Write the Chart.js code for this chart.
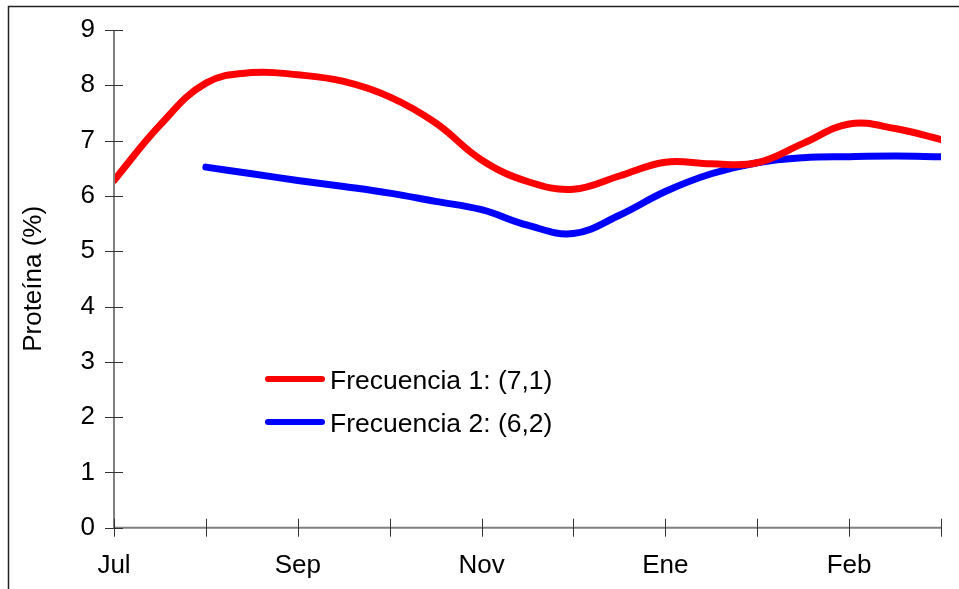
<!DOCTYPE html>
<html>
<head>
<meta charset="utf-8">
<script src="https://cdn.jsdelivr.net/npm/chart.js@4"></script>
<style>
    html, body { margin: 0; padding: 0; background: #fff; }
    #wrap { width: 959px; height: 589px; position: relative; }
</style>
</head>
<body>
<div id="wrap"><canvas id="proteinChart"></canvas></div>
<script>
// posiciones en unidades de marca del eje x (0 = Jul ... 9 = última marca)
const xPos = [0, 0.5, 1, 1.5, 2, 2.5, 3, 3.5, 4, 4.5, 5, 5.5, 6, 6.5, 7, 7.5, 8, 8.5, 9];
const frecuencia1 = [6.28, 7.28, 8.04, 8.23, 8.19, 8.07, 7.79, 7.32, 6.65, 6.26, 6.12, 6.36, 6.61, 6.58, 6.60, 6.95, 7.30, 7.22, 7.02];
const frecuencia2 = [null, null, 6.52, 6.40, 6.28, 6.17, 6.05, 5.90, 5.75, 5.47, 5.32, 5.65, 6.08, 6.40, 6.60, 6.69, 6.71, 6.72, 6.71];
const tickLabels = ['Jul', '', 'Sep', '', 'Nov', '', 'Ene', '', 'Feb', ''];
const seriesNames = ['Frecuencia 1: (7,1)', 'Frecuencia 2: (6,2)'];
const seriesColors = ['#ff0000', '#0000ff'];

const FONT = "'Liberation Sans', Arial, sans-serif";

const toPoints = vals => xPos.map((x, i) => ({ x, y: vals[i] }));

// ejes con marcas cruzadas, marco exterior y leyenda dentro del gráfico
const decorPlugin = {
    id: 'decor',
    afterDraw(chart) {
        const ctx = chart.ctx;
        const xs = chart.scales.x, ys = chart.scales.y;
        const x0 = xs.getPixelForValue(0), x9 = xs.getPixelForValue(9);
        const y0 = ys.getPixelForValue(0), y9 = ys.getPixelForValue(9);
        ctx.save();

        // marco
        ctx.strokeStyle = '#222';
        ctx.lineWidth = 1.5;
        ctx.beginPath();
        ctx.moveTo(8.5, 600); ctx.lineTo(8.5, 6.5); ctx.lineTo(970, 6.5);
        ctx.stroke();

        // ejes
        ctx.strokeStyle = '#808080';
        ctx.lineWidth = 2;
        ctx.beginPath();
        ctx.moveTo(x0, y9); ctx.lineTo(x0, y0); ctx.lineTo(x9, y0);
        ctx.stroke();

        ctx.strokeStyle = '#333';
        ctx.lineWidth = 1;
        ctx.beginPath();
        for (let v = 0; v <= 9; v++) {
            const py = Math.round(ys.getPixelForValue(v)) + 0.5;
            ctx.moveTo(x0 - 9, py); ctx.lineTo(x0 + 9, py);
            const px = Math.round(xs.getPixelForValue(v)) + 0.5;
            ctx.moveTo(px, y0 - 9); ctx.lineTo(px, y0 + 9);
        }
        ctx.stroke();

        // leyenda
        ctx.font = '26.5px ' + FONT;
        ctx.textBaseline = 'middle';
        ctx.fillStyle = '#000';
        ctx.lineCap = 'round';
        ctx.lineWidth = 6;
        seriesNames.forEach((name, i) => {
            const ly = 379 + i * 43;
            ctx.strokeStyle = seriesColors[i];
            ctx.beginPath();
            ctx.moveTo(268, ly); ctx.lineTo(322, ly);
            ctx.stroke();
            ctx.fillText(name, 330, ly + 3);
        });
        ctx.restore();
    }
};

new Chart(document.getElementById('proteinChart').getContext('2d'), {
    type: 'line',
    data: {
        datasets: [
            { label: seriesNames[0], data: toPoints(frecuencia1), borderColor: seriesColors[0], borderWidth: 7, borderCapStyle: 'round', tension: 0.4, pointRadius: 0, spanGaps: false },
            { label: seriesNames[1], data: toPoints(frecuencia2), borderColor: seriesColors[1], borderWidth: 7, borderCapStyle: 'round', tension: 0.4, pointRadius: 0, spanGaps: false }
        ]
    },
    options: {
        responsive: true, maintainAspectRatio: false, animation: false,
        layout: { padding: { top: 30, right: 18, bottom: 0, left: 0 } },
        plugins: { legend: { display: false }, tooltip: { enabled: false } },
        scales: {
            x: {
                type: 'linear', min: 0, max: 9,
                grid: { display: false, drawTicks: false },
                border: { display: false },
                ticks: { stepSize: 1, autoSkip: false, maxRotation: 0, padding: 23, color: '#000', font: { family: FONT, size: 26 },
                    callback: v => tickLabels[v] ?? '' },
                afterFit: s => { s.height = 61.3; s.paddingLeft = 0; s.paddingRight = 0; }
            },
            y: {
                min: 0, max: 9,
                grid: { display: false, drawTicks: false },
                border: { display: false },
                ticks: { stepSize: 1, padding: 19, color: '#000', font: { family: FONT, size: 26 } },
                title: { display: true, text: 'Proteína (%)', color: '#000', font: { family: FONT, size: 26 }, padding: { top: 18, bottom: 0 } },
                afterFit: s => { s.width = 114; s.paddingTop = 0; s.paddingBottom = 0; }
            }
        }
    },
    plugins: [decorPlugin]
});
</script>
</body>
</html>
